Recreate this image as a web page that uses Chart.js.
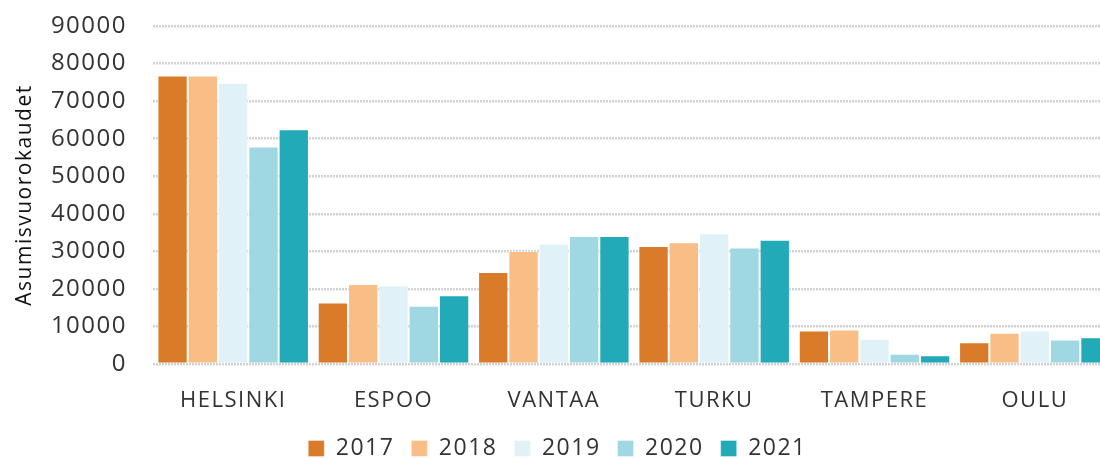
<!DOCTYPE html>
<html>
<head>
<meta charset="utf-8">
<script src="https://cdn.jsdelivr.net/npm/chart.js@4"></script>
<style>
  html, body { margin: 0; padding: 0; background: #fff; overflow: hidden; }
  #wrap { width: 1115px; height: 458px; }
</style>
</head>
<body>
<div id="wrap"><canvas id="mycanvas"></canvas></div>
<script>
var cities = ['HELSINKI', 'ESPOO', 'VANTAA', 'TURKU', 'TAMPERE', 'OULU'];
var years = ['2017', '2018', '2019', '2020', '2021'];
var v2017 = [76800, 16400, 24500, 31400, 8900, 5800];
var v2018 = [76800, 21300, 30100, 32400, 9200, 8300];
var v2019 = [74900, 21000, 32100, 34800, 6700, 8900];
var v2020 = [57900, 15500, 34100, 31000, 2700, 6500];
var v2021 = [62500, 18300, 34100, 33100, 2300, 7100];
var yTicks = [0, 10000, 20000, 30000, 40000, 50000, 60000, 70000, 80000, 90000];

var colors = ['#D97B29', '#F9BE85', '#E0F2F7', '#9FD7E2', '#22AAB8'];
var values = [v2017, v2018, v2019, v2020, v2021];

var datasets = [];
for (var i in years) {
  datasets.push({
    label: years[i],
    data: values[i],
    backgroundColor: colors[i],
    borderColor: 'rgba(255,255,255,0.35)',
    borderWidth: 1,
    barPercentage: 1,
    categoryPercentage: 0.945
  });
}

var font = "'Open Sans', sans-serif";

// wider text, like the original
var spacing = {
  id: 'spacing',
  beforeLayout: function(chart) { chart.ctx.letterSpacing = '1.5px'; },
  beforeDraw: function(chart) { chart.ctx.letterSpacing = '1.5px'; }
};

new Chart(document.getElementById('mycanvas'), {
  type: 'bar',
  data: { labels: cities, datasets: datasets },
  plugins: [spacing],
  options: {
    responsive: true,
    maintainAspectRatio: false,
    animation: false,
    layout: { padding: { top: 26, right: 0, bottom: -12, left: 0 } },
    plugins: {
      tooltip: { enabled: false },
      legend: {
        position: 'bottom',
        labels: {
          color: '#333',
          font: { family: font, size: 23 },
          boxWidth: 16,
          boxHeight: 16,
          padding: 17
        }
      }
    },
    scales: {
      x: {
        grid: { display: false },
        border: { display: false },
        afterFit: function(scale) { scale.height = 56; },
        ticks: {
          color: '#333',
          font: { family: font, size: 22 },
          padding: 16,
          maxRotation: 0
        }
      },
      y: {
        min: 0,
        max: 90000,
        afterBuildTicks: function(scale) {
          scale.ticks = yTicks.map(function(v) { return { value: v }; });
        },
        afterFit: function(scale) { scale.width = 153; },
        grid: {
          color: '#d2d2d2',
          lineWidth: 2.5,
          tickLength: 24,
          tickColor: 'rgba(0,0,0,0)'
        },
        border: { display: false, dash: [2, 1] },
        ticks: {
          color: '#333',
          font: { family: font, size: 24 },
          padding: 2,
          callback: function(v) { return String(v); }
        },
        title: {
          display: true,
          text: 'Asumisvuorokaudet',
          color: '#111',
          font: { family: font, size: 21 },
          padding: { top: 12, bottom: 0 }
        }
      }
    }
  }
});
</script>
</body>
</html>
